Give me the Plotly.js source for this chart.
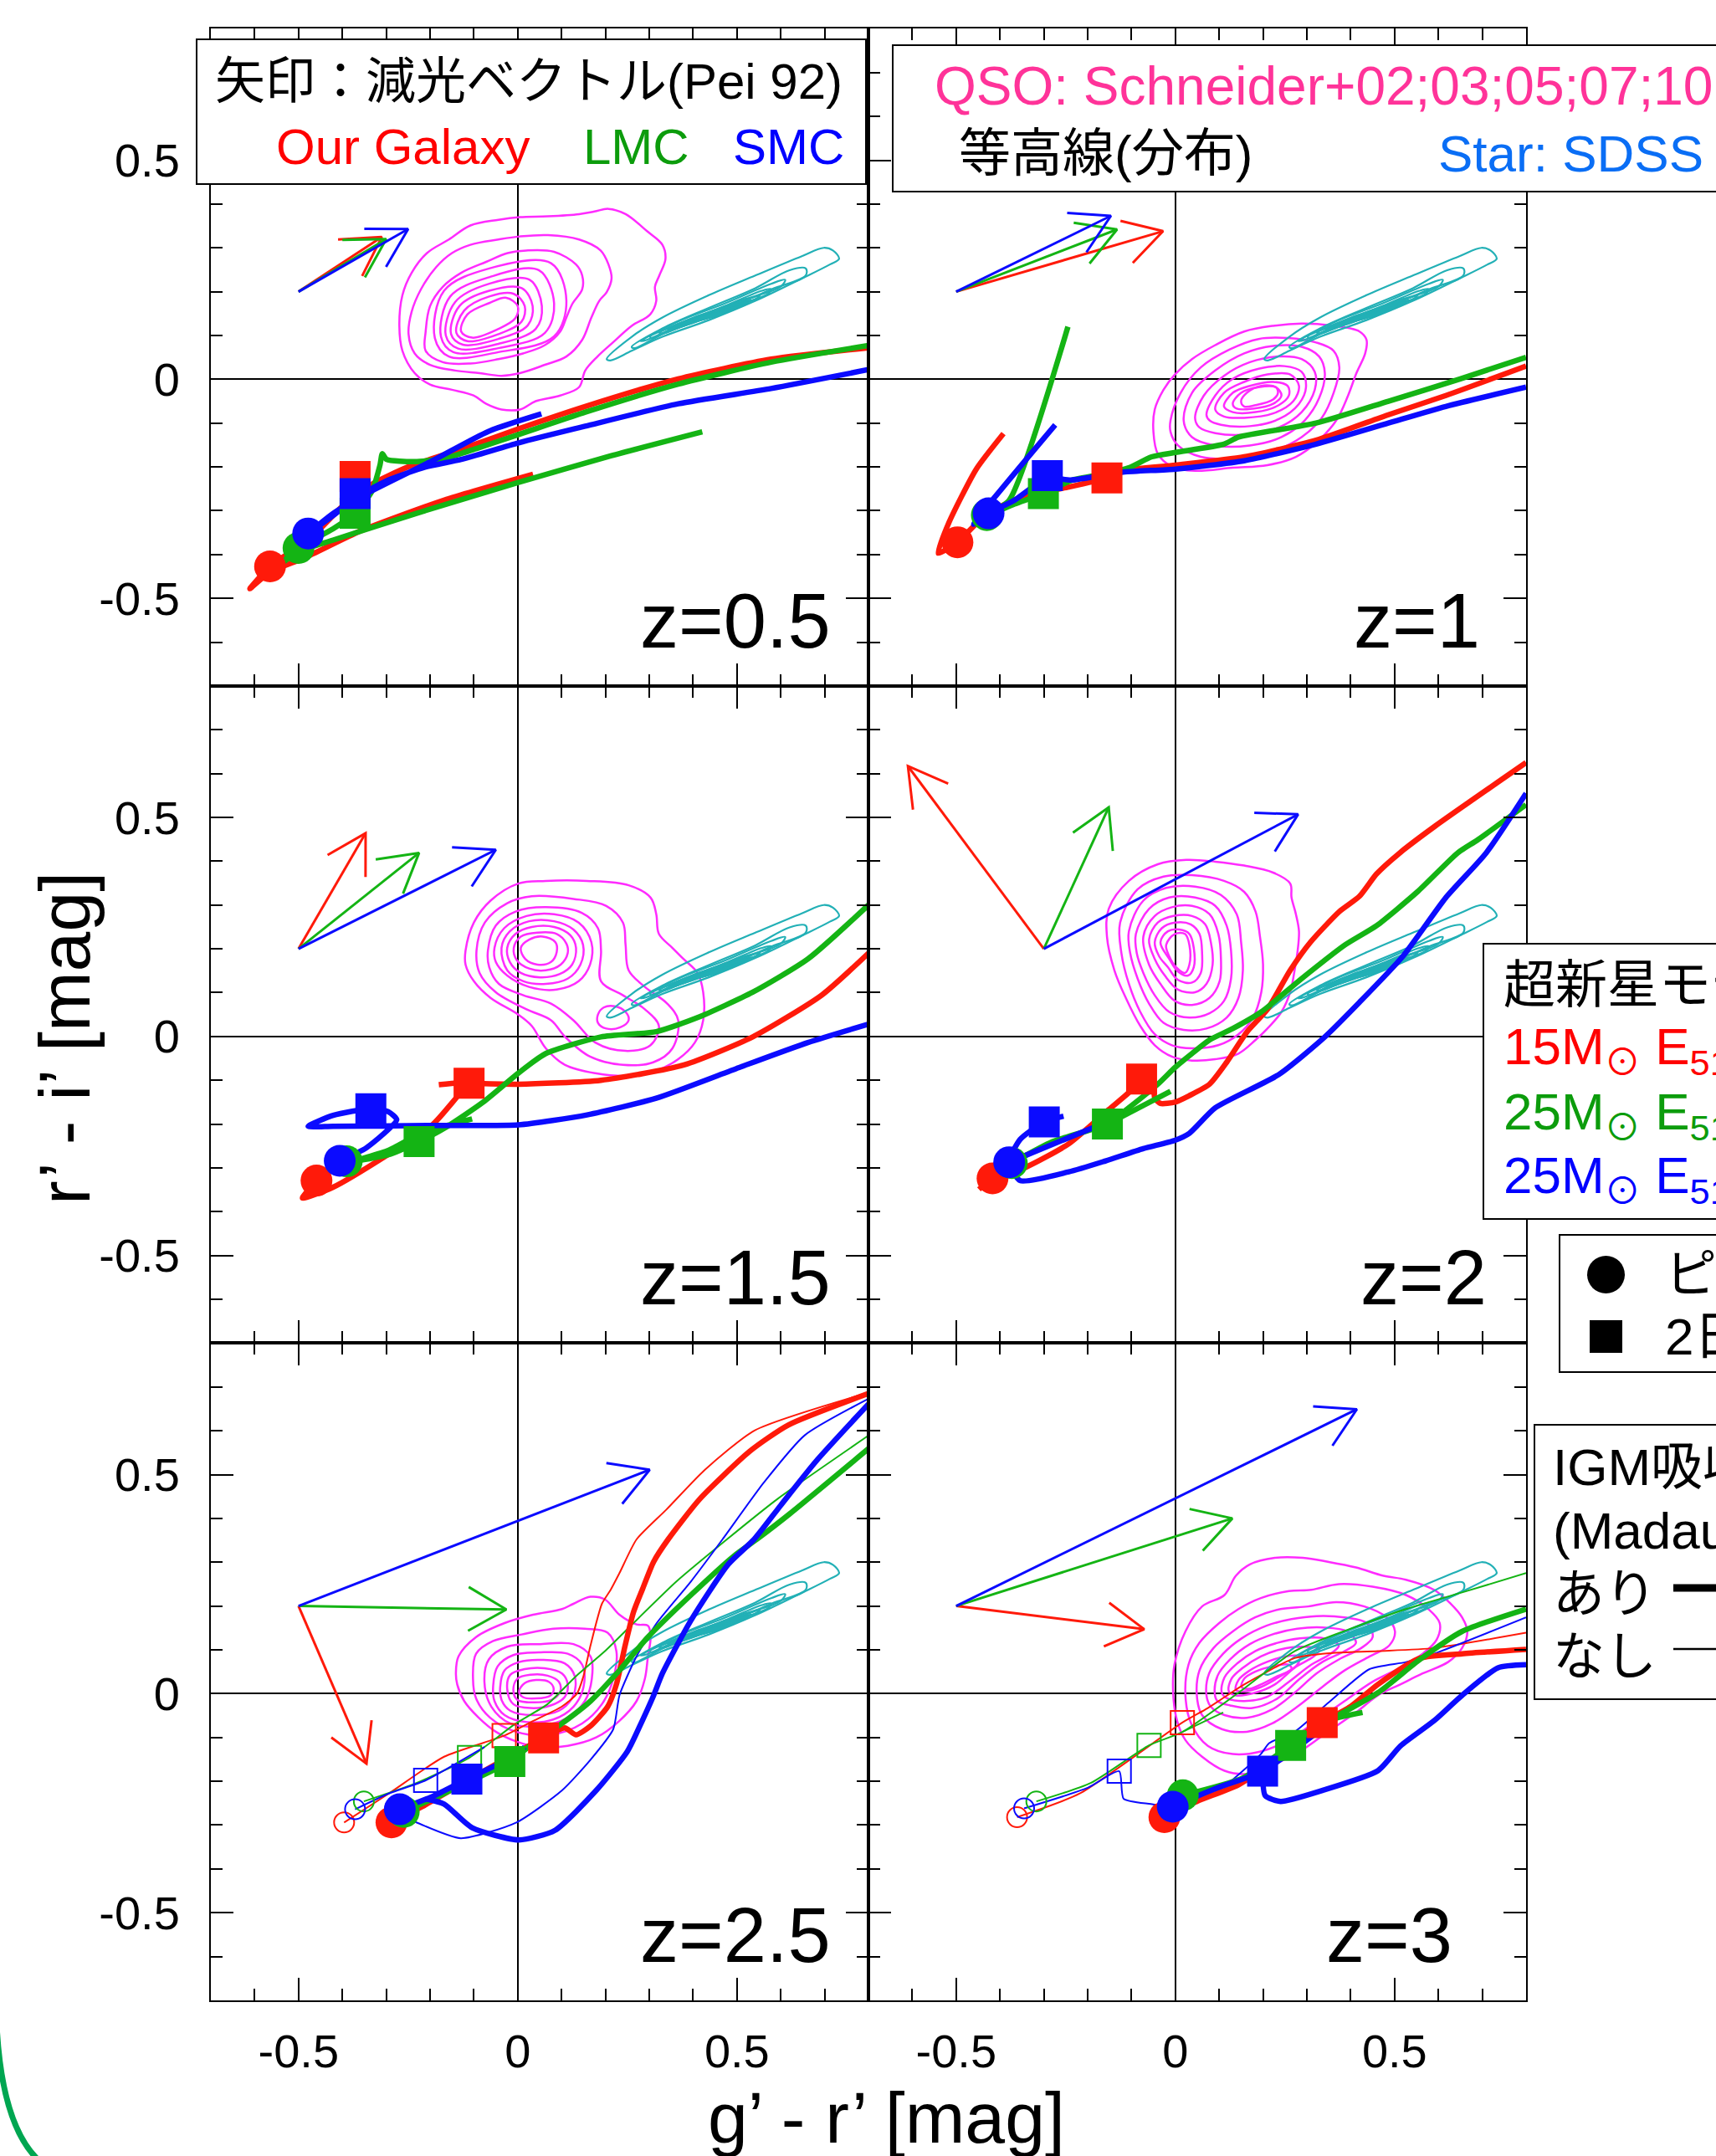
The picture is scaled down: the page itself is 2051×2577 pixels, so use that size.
<!DOCTYPE html>
<html><head><meta charset="utf-8">
<script src="https://cdn.plot.ly/plotly-3.0.1.min.js"></script>
<style>html,body{margin:0;padding:0;background:#fff}</style>
</head><body><div id="chart" style="width:2051px;height:2577px"></div>
<script>
// ---------------- DATA ----------------
const panelLabels = ['z=0.5','z=1','z=1.5','z=2','z=2.5','z=3'];
const tickVals = [-0.5, 0, 0.5];
const tickText = ['-0.5', '0', '0.5'];
const xTitle = 'g’ - r’ [mag]';
const yTitle = 'r’ - i’ [mag]';

// Star (SDSS) contour rings, identical in all panels
const starRings = [
 [[0.203,0.046],[0.260,0.097],[0.330,0.141],[0.436,0.192],[0.542,0.237],[0.648,0.281],[0.698,0.300],[0.719,0.294],[0.733,0.275],[0.712,0.262],[0.648,0.230],[0.542,0.179],[0.436,0.135],[0.330,0.097],[0.260,0.065],[0.211,0.043]],
 [[0.260,0.074],[0.330,0.116],[0.436,0.163],[0.542,0.208],[0.620,0.249],[0.657,0.253],[0.657,0.237],[0.578,0.205],[0.436,0.144],[0.330,0.103],[0.267,0.071]],
 [[0.281,0.087],[0.366,0.132],[0.472,0.173],[0.578,0.218],[0.610,0.227],[0.599,0.211],[0.507,0.179],[0.401,0.138],[0.295,0.090]],
 [[0.302,0.097],[0.366,0.125],[0.472,0.167],[0.557,0.202],[0.578,0.206],[0.571,0.195],[0.472,0.160],[0.366,0.122],[0.306,0.094]],
 [[0.323,0.106],[0.401,0.141],[0.507,0.176],[0.553,0.192],[0.542,0.183],[0.436,0.148],[0.337,0.106]],
 [[0.341,0.116],[0.401,0.138],[0.493,0.167],[0.532,0.181],[0.521,0.173],[0.436,0.148],[0.352,0.116]],
 [[0.345,0.112],[0.420,0.146],[0.500,0.170],[0.525,0.176],[0.510,0.167],[0.430,0.140],[0.355,0.114]],
 [[0.359,0.122],[0.422,0.144],[0.493,0.163],[0.514,0.170],[0.500,0.163],[0.429,0.141],[0.366,0.122]],
 [[0.365,0.120],[0.430,0.146],[0.490,0.163],[0.505,0.166],[0.490,0.158],[0.430,0.139],[0.372,0.120]],
 [[0.373,0.128],[0.422,0.142],[0.479,0.157],[0.493,0.160],[0.479,0.154],[0.429,0.138],[0.380,0.128]],
 [[0.385,0.128],[0.430,0.144],[0.475,0.156],[0.485,0.158],[0.470,0.152],[0.430,0.139],[0.390,0.128]],
 [[0.387,0.132],[0.425,0.143],[0.465,0.152],[0.478,0.155],[0.465,0.149],[0.425,0.138],[0.392,0.131]],
 [[0.400,0.136],[0.430,0.144],[0.460,0.150],[0.470,0.151],[0.455,0.146],[0.430,0.140],[0.405,0.135]]
];

// QSO contour rings per panel
const qso_z05 = [
 [[0.207,0.389],[0.246,0.377],[0.295,0.338],[0.330,0.307],[0.337,0.275],[0.323,0.237],[0.313,0.211],[0.316,0.179],[0.302,0.148],[0.260,0.122],[0.217,0.084],[0.182,0.052],[0.154,0.020],[0.140,-0.018],[0.097,-0.037],[0.041,-0.050],[0.005,-0.069],[-0.037,-0.069],[-0.072,-0.056],[-0.101,-0.037],[-0.150,-0.024],[-0.200,-0.012],[-0.235,0.014],[-0.263,0.065],[-0.270,0.122],[-0.263,0.192],[-0.242,0.243],[-0.207,0.288],[-0.157,0.319],[-0.108,0.351],[-0.044,0.364],[0.005,0.370],[0.069,0.372],[0.140,0.377],[0.175,0.383]],
 [[0.069,0.329],[0.140,0.319],[0.189,0.294],[0.207,0.262],[0.214,0.230],[0.203,0.199],[0.186,0.179],[0.168,0.141],[0.147,0.090],[0.111,0.052],[0.062,0.033],[0.005,0.014],[-0.037,0.008],[-0.087,0.014],[-0.143,0.020],[-0.200,0.033],[-0.235,0.059],[-0.249,0.103],[-0.242,0.154],[-0.221,0.205],[-0.186,0.256],[-0.150,0.288],[-0.108,0.307],[-0.044,0.319],[0.005,0.326]],
 [[0.019,0.294],[0.083,0.291],[0.133,0.262],[0.147,0.237],[0.147,0.205],[0.125,0.173],[0.111,0.141],[0.097,0.109],[0.062,0.078],[0.012,0.059],[-0.044,0.046],[-0.108,0.036],[-0.171,0.039],[-0.210,0.065],[-0.210,0.109],[-0.200,0.167],[-0.171,0.211],[-0.129,0.243],[-0.072,0.268],[-0.023,0.288]],
 [[-0.189,0.094],[-0.157,0.052],[-0.044,0.062],[0.083,0.098],[0.111,0.179],[0.076,0.265],[-0.065,0.253],[-0.168,0.202]],
 [[-0.175,0.097],[-0.147,0.062],[-0.044,0.071],[0.062,0.106],[0.083,0.173],[0.048,0.249],[-0.065,0.233],[-0.154,0.189]],
 [[-0.164,0.100],[-0.136,0.070],[-0.044,0.081],[0.041,0.115],[0.055,0.167],[0.027,0.227],[-0.065,0.218],[-0.143,0.176]],
 [[-0.152,0.103],[-0.125,0.079],[-0.044,0.092],[0.023,0.123],[0.034,0.167],[0.009,0.208],[-0.065,0.202],[-0.133,0.167]],
 [[-0.140,0.106],[-0.115,0.087],[-0.044,0.103],[0.009,0.132],[0.016,0.167],[-0.009,0.195],[-0.065,0.189],[-0.122,0.157]],
 [[-0.129,0.109],[-0.104,0.095],[-0.044,0.115],[-0.005,0.140],[0.000,0.167],[-0.026,0.186],[-0.065,0.174],[-0.115,0.148]]
];
const qso_z1 = [
 [[0.038,0.046],[0.091,0.078],[0.157,0.109],[0.223,0.122],[0.288,0.127],[0.354,0.123],[0.420,0.109],[0.436,0.090],[0.433,0.059],[0.413,0.014],[0.394,-0.037],[0.367,-0.094],[0.321,-0.145],[0.275,-0.177],[0.210,-0.196],[0.131,-0.202],[0.045,-0.209],[-0.008,-0.199],[-0.040,-0.170],[-0.050,-0.120],[-0.047,-0.069],[-0.027,-0.024],[-0.001,0.011]],
 [[-0.011,-0.094],[0.012,-0.031],[0.058,0.027],[0.124,0.068],[0.190,0.092],[0.256,0.094],[0.321,0.084],[0.361,0.065],[0.374,0.027],[0.361,-0.031],[0.334,-0.088],[0.288,-0.132],[0.223,-0.164],[0.144,-0.180],[0.058,-0.177],[0.006,-0.151],[-0.011,-0.120]],
 [[0.019,-0.094],[0.038,-0.031],[0.091,0.020],[0.157,0.059],[0.223,0.076],[0.288,0.074],[0.328,0.052],[0.341,0.014],[0.328,-0.043],[0.295,-0.094],[0.242,-0.132],[0.170,-0.151],[0.091,-0.151],[0.038,-0.132]],
 [[0.045,-0.088],[0.065,-0.037],[0.111,0.008],[0.170,0.039],[0.236,0.052],[0.288,0.046],[0.318,0.017],[0.318,-0.024],[0.288,-0.075],[0.236,-0.110],[0.163,-0.126],[0.091,-0.123],[0.055,-0.110]],
 [[0.071,-0.081],[0.091,-0.037],[0.131,0.001],[0.190,0.024],[0.249,0.030],[0.288,0.017],[0.298,-0.018],[0.282,-0.056],[0.236,-0.091],[0.170,-0.107],[0.104,-0.104],[0.078,-0.094]],
 [[0.091,-0.069],[0.111,-0.031],[0.157,-0.006],[0.210,0.011],[0.262,0.011],[0.282,-0.015],[0.269,-0.050],[0.223,-0.078],[0.157,-0.088],[0.111,-0.085]],
 [[0.111,-0.062],[0.131,-0.031],[0.170,-0.015],[0.223,-0.006],[0.256,-0.015],[0.259,-0.037],[0.236,-0.059],[0.183,-0.075],[0.131,-0.075]],
 [[0.131,-0.056],[0.150,-0.031],[0.190,-0.018],[0.229,-0.018],[0.242,-0.037],[0.223,-0.056],[0.177,-0.067],[0.140,-0.067]],
 [[0.150,-0.050],[0.163,-0.031],[0.196,-0.015],[0.229,-0.018],[0.234,-0.031],[0.223,-0.046],[0.183,-0.059],[0.157,-0.062]]
];
const qso_z15 = [
 [[-0.119,0.196],[-0.100,0.260],[-0.062,0.310],[0.001,0.349],[0.064,0.355],[0.158,0.355],[0.253,0.345],[0.303,0.317],[0.316,0.279],[0.322,0.234],[0.353,0.202],[0.378,0.177],[0.410,0.145],[0.423,0.101],[0.423,0.037],[0.404,-0.014],[0.366,-0.052],[0.316,-0.078],[0.253,-0.090],[0.177,-0.084],[0.108,-0.065],[0.064,-0.027],[0.032,0.024],[0.001,0.050],[-0.062,0.088],[-0.100,0.126],[-0.119,0.164]],
 [[-0.094,0.196],[-0.075,0.260],[-0.024,0.304],[0.032,0.320],[0.127,0.314],[0.202,0.298],[0.240,0.260],[0.246,0.209],[0.253,0.151],[0.290,0.113],[0.341,0.075],[0.366,0.037],[0.353,-0.027],[0.309,-0.059],[0.240,-0.065],[0.165,-0.046],[0.108,-0.001],[0.076,0.037],[0.020,0.062],[-0.050,0.101],[-0.087,0.145]],
 [[-0.068,0.196],[-0.050,0.253],[-0.005,0.285],[0.064,0.295],[0.146,0.282],[0.183,0.247],[0.190,0.196],[0.190,0.126],[0.240,0.094],[0.290,0.062],[0.322,0.024],[0.303,-0.020],[0.246,-0.033],[0.177,-0.014],[0.127,0.037],[0.076,0.075],[0.013,0.094],[-0.043,0.120],[-0.065,0.158]],
 [[-0.053,0.202],[-0.031,0.247],[0.020,0.275],[0.083,0.279],[0.139,0.260],[0.168,0.215],[0.165,0.164],[0.139,0.126],[0.089,0.107],[0.026,0.113],[-0.024,0.139],[-0.050,0.170]],
 [[-0.037,0.202],[-0.018,0.240],[0.026,0.263],[0.083,0.263],[0.127,0.244],[0.149,0.209],[0.143,0.164],[0.114,0.132],[0.064,0.120],[0.013,0.126],[-0.024,0.151]],
 [[-0.024,0.202],[-0.005,0.234],[0.032,0.250],[0.083,0.250],[0.120,0.231],[0.133,0.202],[0.124,0.164],[0.095,0.142],[0.051,0.135],[0.007,0.145],[-0.018,0.170]],
 [[-0.009,0.202],[0.007,0.228],[0.045,0.237],[0.089,0.234],[0.111,0.212],[0.114,0.190],[0.098,0.164],[0.064,0.151],[0.026,0.155],[-0.002,0.174]],
 [[0.007,0.202],[0.026,0.221],[0.057,0.228],[0.086,0.215],[0.089,0.193],[0.076,0.170],[0.045,0.164],[0.017,0.177]],
 [[0.183,0.050],[0.196,0.066],[0.221,0.069],[0.246,0.056],[0.253,0.037],[0.234,0.021],[0.202,0.018],[0.183,0.031]]
];
const qso_z2 = [
 [[-0.152,0.291],[-0.106,0.355],[-0.040,0.393],[0.025,0.403],[0.091,0.399],[0.157,0.390],[0.223,0.374],[0.262,0.349],[0.265,0.317],[0.275,0.279],[0.282,0.240],[0.279,0.196],[0.272,0.151],[0.262,0.101],[0.242,0.056],[0.210,0.018],[0.183,-0.008],[0.144,-0.039],[0.091,-0.052],[0.038,-0.055],[-0.008,-0.046],[-0.047,-0.020],[-0.080,0.024],[-0.113,0.088],[-0.139,0.151],[-0.156,0.228]],
 [[-0.126,0.260],[-0.086,0.336],[-0.027,0.365],[0.038,0.368],[0.111,0.355],[0.157,0.330],[0.183,0.285],[0.193,0.228],[0.200,0.164],[0.196,0.101],[0.177,0.043],[0.144,0.005],[0.098,-0.020],[0.038,-0.027],[-0.008,-0.020],[-0.047,0.005],[-0.080,0.056],[-0.106,0.120],[-0.123,0.190]],
 [[-0.106,0.240],[-0.073,0.310],[-0.021,0.339],[0.045,0.342],[0.104,0.323],[0.140,0.279],[0.150,0.215],[0.154,0.151],[0.144,0.088],[0.117,0.043],[0.071,0.018],[0.019,0.015],[-0.027,0.031],[-0.060,0.075],[-0.086,0.132],[-0.103,0.190]],
 [[-0.090,0.234],[-0.060,0.291],[-0.014,0.317],[0.045,0.317],[0.091,0.298],[0.117,0.253],[0.127,0.196],[0.127,0.132],[0.111,0.081],[0.078,0.053],[0.032,0.043],[-0.014,0.056],[-0.047,0.094],[-0.073,0.145],[-0.088,0.190]],
 [[-0.073,0.228],[-0.047,0.275],[-0.008,0.295],[0.038,0.298],[0.078,0.279],[0.098,0.234],[0.104,0.177],[0.101,0.126],[0.078,0.088],[0.038,0.072],[-0.001,0.081],[-0.034,0.120],[-0.060,0.164]],
 [[-0.060,0.221],[-0.040,0.260],[-0.004,0.275],[0.038,0.275],[0.068,0.256],[0.081,0.215],[0.085,0.164],[0.071,0.120],[0.045,0.101],[0.006,0.107],[-0.024,0.139],[-0.047,0.177]],
 [[-0.047,0.215],[-0.031,0.247],[-0.001,0.260],[0.035,0.256],[0.055,0.234],[0.061,0.190],[0.058,0.145],[0.038,0.123],[0.006,0.129],[-0.017,0.158],[-0.037,0.183]],
 [[-0.034,0.215],[-0.017,0.240],[0.009,0.244],[0.032,0.234],[0.042,0.202],[0.042,0.158],[0.029,0.139],[0.006,0.148],[-0.014,0.177]],
 [[-0.021,0.209],[-0.001,0.234],[0.022,0.234],[0.032,0.209],[0.032,0.164],[0.022,0.145],[0.002,0.158],[-0.014,0.183]]
];
const qso_z25 = [
 [[-0.141,0.046],[-0.135,0.085],[-0.095,0.129],[-0.030,0.161],[0.035,0.180],[0.101,0.193],[0.127,0.205],[0.166,0.221],[0.199,0.215],[0.232,0.180],[0.271,0.158],[0.297,0.155],[0.303,0.129],[0.297,0.085],[0.290,0.034],[0.271,-0.017],[0.232,-0.062],[0.179,-0.100],[0.114,-0.119],[0.048,-0.122],[-0.004,-0.109],[-0.050,-0.087],[-0.089,-0.055],[-0.122,-0.017],[-0.138,0.021]],
 [[-0.102,0.034],[-0.095,0.091],[-0.056,0.120],[0.009,0.135],[0.081,0.148],[0.153,0.148],[0.205,0.139],[0.225,0.097],[0.218,0.034],[0.192,-0.024],[0.147,-0.068],[0.075,-0.094],[-0.004,-0.087],[-0.063,-0.055],[-0.095,-0.011]],
 [[-0.076,0.027],[-0.066,0.078],[-0.024,0.107],[0.048,0.113],[0.127,0.113],[0.166,0.085],[0.169,0.034],[0.153,-0.017],[0.114,-0.055],[0.048,-0.074],[-0.017,-0.068],[-0.060,-0.030]],
 [[-0.056,0.018],[-0.046,0.062],[-0.010,0.088],[0.048,0.094],[0.114,0.091],[0.147,0.066],[0.150,0.015],[0.127,-0.030],[0.081,-0.059],[0.022,-0.065],[-0.030,-0.049],[-0.053,-0.017]],
 [[-0.040,0.015],[-0.030,0.053],[0.003,0.072],[0.055,0.077],[0.107,0.069],[0.130,0.040],[0.127,-0.004],[0.094,-0.039],[0.035,-0.049],[-0.017,-0.039],[-0.037,-0.014]],
 [[-0.024,0.011],[-0.017,0.043],[0.016,0.056],[0.061,0.058],[0.101,0.046],[0.114,0.021],[0.107,-0.008],[0.075,-0.027],[0.029,-0.033],[-0.010,-0.024]],
 [[-0.010,0.008],[-0.001,0.034],[0.029,0.043],[0.068,0.041],[0.094,0.027],[0.097,0.005],[0.078,-0.014],[0.035,-0.020],[-0.001,-0.014]],
 [[0.003,0.005],[0.016,0.024],[0.042,0.031],[0.071,0.027],[0.082,0.011],[0.075,-0.004],[0.042,-0.011],[0.012,-0.008]]
];
const qso_z3 = [
 [[-0.005,0.002],[-0.002,0.066],[0.023,0.142],[0.061,0.199],[0.112,0.225],[0.138,0.269],[0.170,0.295],[0.227,0.310],[0.291,0.310],[0.348,0.301],[0.412,0.288],[0.475,0.269],[0.526,0.260],[0.590,0.237],[0.628,0.205],[0.654,0.174],[0.666,0.142],[0.654,0.104],[0.622,0.072],[0.564,0.046],[0.513,0.021],[0.462,-0.004],[0.412,-0.043],[0.348,-0.087],[0.284,-0.132],[0.221,-0.163],[0.163,-0.183],[0.112,-0.176],[0.061,-0.144],[0.023,-0.106],[0.004,-0.062]],
 [[0.023,-0.004],[0.030,0.066],[0.055,0.116],[0.100,0.161],[0.144,0.193],[0.195,0.218],[0.259,0.234],[0.310,0.237],[0.373,0.250],[0.450,0.244],[0.526,0.225],[0.577,0.193],[0.603,0.161],[0.596,0.123],[0.564,0.091],[0.513,0.059],[0.450,0.027],[0.386,-0.017],[0.322,-0.062],[0.259,-0.106],[0.195,-0.132],[0.131,-0.138],[0.074,-0.119],[0.036,-0.068]],
 [[0.049,-0.004],[0.055,0.053],[0.087,0.104],[0.131,0.142],[0.182,0.174],[0.240,0.193],[0.303,0.199],[0.367,0.209],[0.431,0.199],[0.482,0.174],[0.501,0.142],[0.488,0.110],[0.443,0.085],[0.386,0.053],[0.335,0.015],[0.278,-0.030],[0.221,-0.068],[0.163,-0.087],[0.106,-0.081],[0.061,-0.049]],
 [[0.071,-0.004],[0.077,0.046],[0.109,0.091],[0.151,0.126],[0.208,0.155],[0.265,0.170],[0.322,0.177],[0.386,0.174],[0.437,0.161],[0.450,0.129],[0.424,0.104],[0.373,0.078],[0.322,0.046],[0.272,0.002],[0.221,-0.036],[0.163,-0.055],[0.112,-0.049],[0.081,-0.030]],
 [[0.090,-0.001],[0.096,0.040],[0.125,0.078],[0.170,0.113],[0.221,0.135],[0.278,0.148],[0.335,0.151],[0.392,0.142],[0.412,0.116],[0.386,0.097],[0.335,0.072],[0.284,0.034],[0.233,-0.011],[0.176,-0.033],[0.125,-0.027],[0.096,-0.017]],
 [[0.106,0.002],[0.112,0.037],[0.141,0.069],[0.182,0.097],[0.233,0.116],[0.284,0.126],[0.341,0.126],[0.373,0.110],[0.354,0.091],[0.310,0.066],[0.259,0.027],[0.208,-0.008],[0.157,-0.017],[0.119,-0.011]],
 [[0.122,0.005],[0.128,0.034],[0.154,0.059],[0.195,0.085],[0.240,0.101],[0.291,0.107],[0.329,0.101],[0.316,0.085],[0.272,0.059],[0.227,0.021],[0.182,0.002],[0.138,-0.004]],
 [[0.138,0.008],[0.144,0.031],[0.170,0.053],[0.208,0.072],[0.252,0.085],[0.284,0.085],[0.278,0.066],[0.240,0.040],[0.195,0.015],[0.157,0.005]],
 [[0.151,0.015],[0.157,0.034],[0.182,0.050],[0.221,0.062],[0.259,0.066],[0.265,0.056],[0.233,0.040],[0.195,0.021],[0.170,0.011]]
];

// Extinction vectors (Pei 92): base point and tips per panel
const arrowBase  = [[-0.5,0.2],[-0.5,0.2],[-0.5,0.2],[-0.3,0.2],[-0.5,0.2],[-0.5,0.2]];
const arrowRed   = [[-0.310,0.325],[-0.028,0.338],[-0.347,0.464],[-0.610,0.617],[-0.345,-0.160],[-0.071,0.147]];
const arrowGreen = [[-0.300,0.320],[-0.133,0.342],[-0.225,0.419],[-0.152,0.523],[-0.026,0.192],[0.130,0.400]];
const arrowBlue  = [[-0.250,0.343],[-0.147,0.373],[-0.050,0.426],[0.280,0.507],[0.301,0.511],[0.414,0.649]];

// Supernova model tracks, with IGM absorption (thick)
const trk_z05_red = [[0.035,-0.217],[-0.168,-0.276],[-0.358,-0.346],[-0.485,-0.407],[-0.565,-0.440],[-0.611,-0.478],[-0.565,-0.427],[-0.472,-0.362],[-0.400,-0.290],[-0.330,-0.238],[-0.250,-0.200],[-0.130,-0.160],[0.002,-0.113],[0.154,-0.062],[0.366,0.001],[0.578,0.046],[0.80,0.072]];
const trk_z05_green = [[0.421,-0.120],[0.212,-0.175],[0.003,-0.235],[-0.231,-0.306],[-0.421,-0.367],[-0.497,-0.392],[-0.535,-0.417],[-0.50,-0.385],[-0.421,-0.341],[-0.371,-0.306],[-0.333,-0.256],[-0.314,-0.195],[-0.309,-0.170],[-0.299,-0.183],[-0.235,-0.188],[-0.164,-0.180],[-0.094,-0.158],[0.002,-0.126],[0.154,-0.075],[0.366,-0.011],[0.578,0.039],[0.80,0.077]];
const trk_z05_blue = [[0.054,-0.079],[-0.067,-0.119],[-0.193,-0.185],[-0.345,-0.261],[-0.421,-0.306],[-0.478,-0.352],[-0.421,-0.311],[-0.371,-0.271],[-0.295,-0.230],[-0.210,-0.200],[-0.129,-0.183],[0.002,-0.145],[0.154,-0.107],[0.366,-0.056],[0.578,-0.021],[0.80,0.022]];
const trk_z1_red = [[-0.392,-0.124],[-0.454,-0.205],[-0.516,-0.326],[-0.541,-0.397],[-0.497,-0.372],[-0.429,-0.306],[-0.342,-0.266],[-0.243,-0.246],[-0.156,-0.225],[-0.119,-0.209],[0,-0.196],[0.157,-0.177],[0.321,-0.139],[0.486,-0.081],[0.617,-0.037],[0.80,0.030]];
const trk_z1_green = [[-0.245,0.120],[-0.379,-0.276],[-0.43,-0.31],[-0.367,-0.285],[-0.301,-0.261],[-0.238,-0.231],[-0.156,-0.215],[-0.106,-0.202],[-0.054,-0.177],[0,-0.167],[0.111,-0.148],[0.144,-0.132],[0.321,-0.100],[0.486,-0.050],[0.650,0.001],[0.80,0.050]];
const trk_z1_blue = [[-0.274,-0.104],[-0.460,-0.331],[-0.426,-0.306],[-0.367,-0.276],[-0.292,-0.225],[-0.238,-0.230],[-0.119,-0.212],[0,-0.205],[0.157,-0.186],[0.321,-0.148],[0.486,-0.100],[0.617,-0.062],[0.80,-0.018]];
const trk_z15_red = [[-0.459,-0.329],[-0.491,-0.369],[-0.421,-0.344],[-0.295,-0.269],[-0.193,-0.200],[-0.136,-0.135],[-0.111,-0.107],[-0.180,-0.110],null,[-0.111,-0.107],[0.001,-0.109],[0.190,-0.100],[0.379,-0.065],[0.536,-0.001],[0.693,0.094],[0.80,0.19]];
const trk_z15_green = [[-0.104,-0.188],[-0.218,-0.220],[-0.295,-0.260],[-0.371,-0.284],[-0.295,-0.270],[-0.225,-0.240],[-0.168,-0.210],[-0.079,-0.150],[0.001,-0.084],[0.064,-0.039],[0.190,-0.001],[0.316,0.011],[0.410,0.043],[0.536,0.101],[0.662,0.177],[0.80,0.30]];
const trk_z15_blue = [[-0.406,-0.284],[-0.345,-0.254],[-0.276,-0.190],[-0.295,-0.172],[-0.335,-0.165],[-0.421,-0.180],[-0.478,-0.205],[-0.421,-0.205],[-0.168,-0.203],[0.001,-0.202],[0.158,-0.179],[0.316,-0.141],[0.505,-0.071],[0.662,-0.014],[0.80,0.028]];
const trk_z2_red = [[-0.448,-0.349],[-0.417,-0.324],[-0.342,-0.299],[-0.243,-0.245],[-0.152,-0.167],[-0.106,-0.128],[-0.077,-0.097],[-0.050,-0.116],[-0.047,-0.141],[-0.034,-0.153],[-0.001,-0.150],[0.032,-0.135],[0.078,-0.109],[0.117,-0.059],[0.164,0.011],[0.210,0.062],[0.262,0.151],[0.308,0.215],[0.374,0.285],[0.420,0.320],[0.459,0.371],[0.512,0.419],[0.591,0.479],[0.80,0.625]];
const trk_z2_green = [[-0.373,-0.289],[-0.280,-0.240],[-0.155,-0.200],[-0.123,-0.176],[-0.040,-0.109],[-0.001,-0.071],[0.038,-0.039],[0.078,-0.008],[0.131,0.018],[0.196,0.056],[0.288,0.132],[0.387,0.209],[0.459,0.253],[0.552,0.330],[0.644,0.419],[0.690,0.449],[0.80,0.529],null,[-0.155,-0.200],[-0.011,-0.125]];
const trk_z2_blue = [[-0.255,-0.182],[-0.299,-0.195],[-0.354,-0.235],[-0.379,-0.287],[-0.354,-0.329],[-0.243,-0.309],[-0.159,-0.284],[-0.073,-0.256],[-0.001,-0.237],[0.032,-0.221],[0.091,-0.163],[0.236,-0.087],[0.341,-0.001],[0.420,0.078],[0.519,0.183],[0.617,0.317],[0.709,0.419],[0.80,0.555],null,[-0.379,-0.287],[-0.124,-0.182]];
const trk_z25_red = [[-0.288,-0.294],[-0.218,-0.258],[-0.104,-0.192],[0.059,-0.101],[0.107,-0.078],[0.133,-0.094],[0.166,-0.074],[0.205,-0.030],[0.225,0.021],[0.245,0.110],[0.264,0.186],[0.284,0.237],[0.310,0.301],[0.343,0.352],[0.415,0.444],[0.529,0.553],[0.617,0.613],[0.80,0.685]];
const trk_z25_green = [[-0.26,-0.27],[-0.168,-0.228],[-0.018,-0.155],[0.035,-0.113],[0.101,-0.068],[0.166,-0.017],[0.232,0.053],[0.297,0.129],[0.395,0.225],[0.493,0.314],[0.545,0.352],[0.620,0.410],[0.80,0.559]];
const trk_z25_blue = [[0.016,-0.122],[-0.010,-0.144],[-0.063,-0.170],[-0.116,-0.195],[-0.193,-0.234],[-0.269,-0.264],null,[-0.210,-0.240],[-0.168,-0.252],[-0.104,-0.306],[0.003,-0.334],[0.085,-0.312],[0.179,-0.221],[0.250,-0.132],[0.284,-0.062],[0.310,-0.004],[0.330,0.046],[0.395,0.167],[0.480,0.295],[0.539,0.352],[0.600,0.430],[0.680,0.530],[0.80,0.661]];
const trk_z3_red = [[-0.025,-0.282],[0.049,-0.246],[0.144,-0.208],[0.240,-0.144],[0.300,-0.087],[0.335,-0.066],[0.399,-0.030],[0.462,0.021],[0.558,0.081],[0.654,0.091],[0.80,0.101]];
const trk_z3_green = [[0.017,-0.232],[0.155,-0.192],[0.263,-0.118],[0.348,-0.062],[0.427,-0.043],null,[0.348,-0.062],[0.462,0.002],[0.558,0.078],[0.654,0.142],[0.80,0.193]];
const trk_z3_blue = [[-0.006,-0.258],[0.093,-0.216],[0.199,-0.177],[0.316,-0.094],null,[0.199,-0.177],[0.205,-0.233],[0.240,-0.246],[0.335,-0.221],[0.462,-0.176],[0.514,-0.119],[0.590,-0.062],[0.654,-0.004],[0.736,0.059],[0.80,0.066]];
// without IGM absorption (thin), z=2.5 and z=3 only
const trn_z25_red = [[-0.396,-0.294],[-0.294,-0.228],[-0.168,-0.144],[-0.031,-0.096],[0.030,-0.065],[0.100,-0.030],[0.135,0.000],[0.150,0.040],[0.166,0.110],[0.192,0.205],[0.212,0.237],[0.232,0.275],[0.271,0.352],[0.339,0.420],[0.427,0.511],[0.541,0.601],[0.80,0.687]];
const trn_z25_green = [[-0.351,-0.246],[-0.231,-0.204],[-0.110,-0.146],[-0.004,-0.068],[0.068,-0.024],[0.133,0.040],[0.199,0.097],[0.264,0.161],[0.362,0.256],[0.477,0.352],[0.592,0.444],[0.80,0.589]];
const trn_z25_blue = [[-0.371,-0.264],[-0.294,-0.228],[-0.210,-0.198],[-0.076,-0.122],null,[-0.300,-0.262],[-0.231,-0.294],[-0.130,-0.330],[-0.003,-0.294],[0.101,-0.221],[0.166,-0.151],[0.218,-0.081],[0.232,-0.004],[0.271,0.085],[0.317,0.161],[0.395,0.256],[0.467,0.352],[0.560,0.480],[0.655,0.590],[0.80,0.673]];
const trn_z3_red = [[-0.361,-0.282],[-0.218,-0.228],[0.016,-0.066],[0.074,-0.033],[0.157,0.021],[0.272,0.081],[0.335,0.091],[0.462,0.097],[0.590,0.104],[0.80,0.139]];
const trn_z3_green = [[-0.317,-0.246],[-0.193,-0.204],[-0.060,-0.118],[0.017,-0.087],[0.144,0.002],[0.272,0.097],[0.399,0.148],[0.526,0.193],[0.654,0.231],[0.80,0.275],null,[0.017,-0.087],[0.109,-0.043]];
const trn_z3_blue = [[-0.345,-0.262],[-0.20,-0.215],[-0.128,-0.177],[-0.118,-0.240],[-0.056,-0.252],[-0.006,-0.258],[0.10,-0.22],[0.195,-0.138],[0.214,-0.113],[0.272,-0.087],[0.35,-0.02],[0.443,0.056],[0.526,0.072],[0.590,0.091],[0.80,0.174]];

// Markers: peak (circle) and second point (square), one per panel
const peakRed   = [[-0.565,-0.427],[-0.497,-0.372],[-0.459,-0.329],[-0.417,-0.324],[-0.288,-0.294],[-0.025,-0.282]];
const peakGreen = [[-0.500,-0.385],[-0.430,-0.310],[-0.390,-0.285],[-0.373,-0.289],[-0.260,-0.270],[0.017,-0.232]];
const peakBlue  = [[-0.478,-0.352],[-0.426,-0.306],[-0.406,-0.284],[-0.379,-0.287],[-0.269,-0.264],[-0.006,-0.258]];
const secRed    = [[-0.371,-0.222],[-0.156,-0.225],[-0.111,-0.107],[-0.077,-0.097],[0.059,-0.101],[0.335,-0.066]];
const secGreen  = [[-0.371,-0.306],[-0.301,-0.261],[-0.225,-0.240],[-0.155,-0.200],[-0.018,-0.155],[0.263,-0.118]];
const secBlue   = [[-0.371,-0.261],[-0.292,-0.220],[-0.335,-0.165],[-0.299,-0.195],[-0.116,-0.195],[0.199,-0.177]];
// open markers (no IGM) for z=2.5, z=3
const peakRedOpen   = [[-0.396,-0.294],[-0.361,-0.282]];
const peakGreenOpen = [[-0.351,-0.246],[-0.317,-0.246]];
const peakBlueOpen  = [[-0.371,-0.264],[-0.345,-0.262]];
const secRedOpen    = [[-0.031,-0.096],[0.016,-0.066]];
const secGreenOpen  = [[-0.110,-0.146],[-0.060,-0.118]];
const secBlueOpen   = [[-0.210,-0.198],[-0.128,-0.177]];

// Legend texts
const legExt1 = '矢印：減光ベクトル(Pei 92)';
const legExtNames = ['Our Galaxy','LMC','SMC'];
const legQso = 'QSO: Schneider+02;03;05;07;10';
const legContour = '等高線(分布)';
const legStar = 'Star: SDSS';
const legSN = ['超新星モデル','15M<sub>⊙</sub> E<sub>51</sub>=1','25M<sub>⊙</sub> E<sub>51</sub>=1','25M<sub>⊙</sub> E<sub>51</sub>=10'];
const legMark = ['ピーク','2日後'];
const legIGM = ['IGM吸収','(Madau 95)','あり','なし'];

// ---------------- DRAWING ----------------
const qsoRings = [qso_z05, qso_z1, qso_z15, qso_z2, qso_z25, qso_z3];
const thick = [[trk_z05_red,trk_z05_green,trk_z05_blue],[trk_z1_red,trk_z1_green,trk_z1_blue],[trk_z15_red,trk_z15_green,trk_z15_blue],[trk_z2_red,trk_z2_green,trk_z2_blue],[trk_z25_red,trk_z25_green,trk_z25_blue],[trk_z3_red,trk_z3_green,trk_z3_blue]];
const thin = {4:[trn_z25_red,trn_z25_green,trn_z25_blue], 5:[trn_z3_red,trn_z3_green,trn_z3_blue]};

const RED='#ff1a0a', GRN='#14b414', BLU='#0b0bff', MAG='#ff2bff', CYA='#22b0b6';
const COLS=[RED,GRN,BLU];
const FONT='"Liberation Sans", Arial, "Noto Sans CJK JP", sans-serif';
const W=2051, H=2577;
const PX=v=>v/W, PY=v=>1-v/H;
const LEFT=252, MID=1038, RIGHT=1824, TOP=34.4, ROWH=785.5;

function unzip(pts){const x=[],y=[];pts.forEach(p=>{if(p===null){x.push(null);y.push(null);}else{x.push(p[0]);y.push(p[1]);}});return {x,y};}
function rings(rs){const pts=[];rs.forEach((r,k)=>{if(k>0)pts.push(null);r.forEach(p=>pts.push(p));pts.push(r[0]);});return unzip(pts);}
function arrowPts(b,t){const a=Math.atan2(t[1]-b[1],t[0]-b[0])+Math.PI,L=0.1,s=Math.PI/6;
  return [b,t,null,[t[0]+L*Math.cos(a+s),t[1]+L*Math.sin(a+s)],t,[t[0]+L*Math.cos(a-s),t[1]+L*Math.sin(a-s)]];}

const traces=[];
const layout={width:W,height:H,margin:{l:0,r:0,t:0,b:0},paper_bgcolor:'#fff',plot_bgcolor:'rgba(0,0,0,0)',showlegend:false,font:{family:FONT,color:'#000'},annotations:[],shapes:[]};

for(let i=0;i<6;i++){
  const col=i%2,row=Math.floor(i/2);
  const xs=i===0?'x':'x'+(i+1), ys=i===0?'y':'y'+(i+1);
  const xk=i===0?'xaxis':'xaxis'+(i+1), yk=i===0?'yaxis':'yaxis'+(i+1);
  const top=TOP+row*ROWH, bot=top+ROWH;
  const common={range:[-0.7,0.8],tickmode:'array',tickvals:tickVals,ticktext:tickText,ticks:'inside',ticklen:27,tickwidth:2,tickcolor:'#000',
    showline:true,linecolor:'#000',linewidth:2,mirror:'ticks',zeroline:true,zerolinecolor:'#000',zerolinewidth:2.2,showgrid:false,fixedrange:true,
    minor:{tickmode:'linear',tick0:0,dtick:0.1,ticks:'inside',ticklen:14,tickwidth:2,tickcolor:'#000',showgrid:false},
    tickfont:{family:FONT,size:56,color:'#000'}};
  layout[xk]=Object.assign({},common,{domain:col===0?[PX(LEFT),PX(MID)]:[PX(MID),PX(RIGHT)],anchor:ys,showticklabels:row===2,ticklabelstandoff:11});
  layout[yk]=Object.assign({},common,{domain:[PY(bot),PY(top)],anchor:xs,showticklabels:col===0,ticklabelstandoff:24});

  const base={xaxis:xs,yaxis:ys,hoverinfo:'skip',type:'scatter'};
  const q=rings(qsoRings[i]);
  traces.push(Object.assign({},base,{x:q.x,y:q.y,mode:'lines',line:{color:MAG,width:2.5,shape:'spline',smoothing:1}}));
  const s=rings(starRings);
  traces.push(Object.assign({},base,{x:s.x,y:s.y,mode:'lines',line:{color:CYA,width:2.2,shape:'spline',smoothing:1}}));
  [arrowRed,arrowGreen,arrowBlue].forEach((arr,k)=>{const a=unzip(arrowPts(arrowBase[i],arr[i]));
    traces.push(Object.assign({},base,{x:a.x,y:a.y,mode:'lines',line:{color:COLS[k],width:3}}));});
  if(thin[i]) thin[i].forEach((t,k)=>{const a=unzip(t);traces.push(Object.assign({},base,{x:a.x,y:a.y,mode:'lines',line:{color:COLS[k],width:2,shape:'spline',smoothing:0.6}}));});
  thick[i].forEach((t,k)=>{const a=unzip(t);traces.push(Object.assign({},base,{x:a.x,y:a.y,mode:'lines',line:{color:COLS[k],width:6.5,shape:'spline',smoothing:0.6}}));});
  if(i>=4){const j=i-4;
    [peakRedOpen,peakGreenOpen,peakBlueOpen].forEach((m,k)=>traces.push(Object.assign({},base,{x:[m[j][0]],y:[m[j][1]],mode:'markers',marker:{symbol:'circle-open',size:24,color:COLS[k],line:{width:2}}})));
    [secRedOpen,secGreenOpen,secBlueOpen].forEach((m,k)=>traces.push(Object.assign({},base,{x:[m[j][0]],y:[m[j][1]],mode:'markers',marker:{symbol:'square-open',size:28,color:COLS[k],line:{width:2}}})));
  }
  [peakRed,peakGreen,peakBlue].forEach((m,k)=>traces.push(Object.assign({},base,{x:[m[i][0]],y:[m[i][1]],mode:'markers',marker:{symbol:'circle',size:38,color:COLS[k]}})));
  [secRed,secGreen,secBlue].forEach((m,k)=>traces.push(Object.assign({},base,{x:[m[i][0]],y:[m[i][1]],mode:'markers',marker:{symbol:'square',size:37,color:COLS[k]}})));
}

const A=layout.annotations, S=layout.shapes;
function ann(text,x,y,size,color,xa,extra){A.push(Object.assign({text:text,x:PX(x),y:PY(y),xref:'paper',yref:'paper',xanchor:xa||'left',yanchor:'middle',showarrow:false,font:{family:FONT,size:size,color:color||'#000'}},extra||{}));}
// panel labels
const zlx=[995,1771,995,1779,995,1738], zly=[742,742,1527,1527,2313,2313];
panelLabels.forEach((t,i)=>ann(t,zlx[i],zly[i],92,'#000','right'));
// axis titles
ann(xTitle,1059,2531,86,'#000','center');
ann(yTitle,77,1241,86,'#000','center',{textangle:-90});
// legend boxes
function box(x0,y0,x1,y1){S.push({type:'rect',xref:'paper',yref:'paper',x0:PX(x0),x1:PX(x1),y0:PY(y1),y1:PY(y0),line:{color:'#000',width:2},fillcolor:'#fff',layer:'above'});}
box(235,47,1035,220);
ann(legExt1,1009,98,60,'#000','right');
ann(legExtNames[0],328,175,60,'#ff0000');
ann(legExtNames[1],695,175,60,'#0c9c0c');
ann(legExtNames[2],874,175,60,'#0000ff');
box(1067,54,2120,229);
ann(legQso,1115,103,64,'#ff3399');
ann(legContour,1144,183,62,'#000');
ann(legStar,1717,183,62,'#0a6ef5');
box(1773,1128,2120,1457);
ann(legSN[0],1795,1177,62,'#000');
ann(legSN[1],1795,1255,62,'#ff0000');
ann(legSN[2],1795,1333,62,'#0c9c0c');
ann(legSN[3],1795,1409,62,'#0000ff');
box(1864,1476,2120,1640);
S.push({type:'circle',xref:'paper',yref:'paper',x0:PX(1897),x1:PX(1942),y0:PY(1546),y1:PY(1501),fillcolor:'#000',line:{color:'#000',width:0},layer:'above'});
S.push({type:'rect',xref:'paper',yref:'paper',x0:PX(1900),x1:PX(1939),y0:PY(1617),y1:PY(1578),fillcolor:'#000',line:{color:'#000',width:0},layer:'above'});
ann(legMark[0],1988,1523,62,'#000');
ann(legMark[1],1988,1597,62,'#000');
box(1834,1703,2120,2031);
ann(legIGM[0],1854,1753,62,'#000');
ann(legIGM[1],1854,1829,62,'#000');
ann(legIGM[2],1854,1906,62,'#000');
ann(legIGM[3],1854,1980,62,'#000');
S.push({type:'line',xref:'paper',yref:'paper',x0:PX(2000),x1:PX(2120),y0:PY(1898),y1:PY(1898),line:{color:'#000',width:9},layer:'above'});
S.push({type:'line',xref:'paper',yref:'paper',x0:PX(2000),x1:PX(2120),y0:PY(1971),y1:PY(1971),line:{color:'#000',width:2.5},layer:'above'});
// decorative green arc at the bottom-left corner
S.push({type:'path',xref:'paper',yref:'paper',path:'M '+PX(-4)+','+PY(2420)+' Q '+PX(2)+','+PY(2540)+' '+PX(46)+','+PY(2582),line:{color:'#00a651',width:7},layer:'above'});

Plotly.newPlot('chart',traces,layout,{staticPlot:true,displayModeBar:false});
</script></body></html>
